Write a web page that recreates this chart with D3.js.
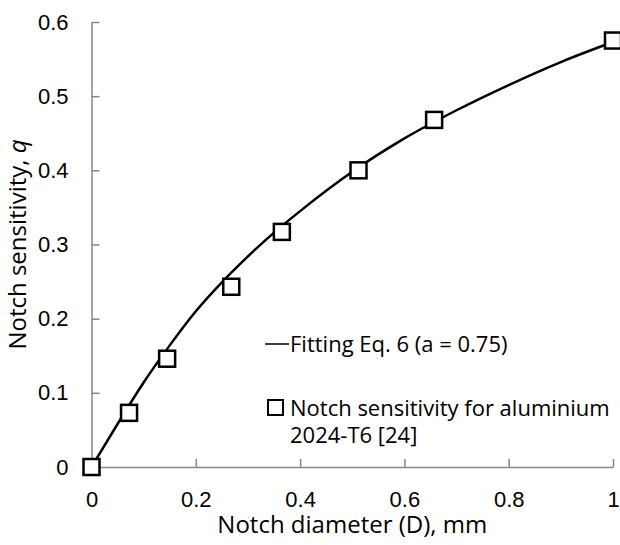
<!DOCTYPE html>
<meta charset="utf-8">
<style>
body { margin: 0; background: #fff; }
svg { font-family: 'Open Sans', sans-serif; }
.axis path, .axis line { stroke: #868686; stroke-width: 1.5; }
.axis text { font-size: 22px; fill: #000; }
.title { font-size: 24px; fill: #000; }
.legend text { font-size: 22px; fill: #000; }
</style>
<body>
<div id="chart"></div>
<script src="https://cdn.jsdelivr.net/npm/d3@7"></script>
<script>

// measured points (notch diameter D in mm, notch sensitivity q)
const pointD = [0, 0.072, 0.145, 0.268, 0.365, 0.512, 0.657, 1.0];
const pointQ = [0, 0.073, 0.146, 0.243, 0.317, 0.400, 0.468, 0.575];

// fitted curve
const fitD = [0, 0.05, 0.1, 0.15, 0.2, 0.25, 0.3, 0.35, 0.4, 0.5, 0.6, 0.7, 0.8, 0.9, 1.0];
const fitQ = [0, 0.058, 0.114, 0.164, 0.21, 0.249, 0.284, 0.316, 0.345, 0.398, 0.443, 0.481, 0.515, 0.546, 0.573];

const xTicks = [0, 0.2, 0.4, 0.6, 0.8, 1];
const yTicks = [0, 0.1, 0.2, 0.3, 0.4, 0.5, 0.6];

const legendLabels = ['Fitting Eq. 6 (a = 0.75)', 'Notch sensitivity for aluminium', '2024-T6 [24]'];

const W = 620, H = 545;
const margin = {top: 22, right: 7, bottom: 78, left: 91.5},
      width = W - margin.left - margin.right,
      height = H - margin.top - margin.bottom;

const svg = d3.select('#chart').append('svg')
    .attr('width', W)
    .attr('height', H);

const g = svg.append('g')
    .attr('transform', 'translate(' + margin.left + ',' + margin.top + ')');

const x = d3.scaleLinear().domain([0, 1]).range([0, width]);
const y = d3.scaleLinear().domain([0, 0.6]).range([height, 0]);

g.append('g')
    .attr('class', 'axis')
    .attr('transform', 'translate(0,' + height + ')')
    .call(d3.axisBottom(x).tickValues(xTicks).tickFormat(d3.format('~g'))
        .tickSizeInner(-8).tickSizeOuter(0).tickPadding(24));

g.append('g')
    .attr('class', 'axis')
    .call(d3.axisLeft(y).tickValues(yTicks).tickFormat(d3.format('~g'))
        .tickSizeInner(-8).tickSizeOuter(0).tickPadding(23));

// fitted line
const fit = fitD.map((d, i) => ({d: d, q: fitQ[i]}));
g.append('path')
    .datum(fit)
    .attr('fill', 'none')
    .attr('stroke', '#000')
    .attr('stroke-width', 2.5)
    .attr('d', d3.line().x(p => x(p.d)).y(p => y(p.q)).curve(d3.curveMonotoneX));

// measured points
const pts = pointD.map((d, i) => ({d: d, q: pointQ[i]}));
const sq = 16;
g.selectAll('rect.pt')
    .data(pts)
    .join('rect')
    .attr('class', 'pt')
    .attr('x', p => x(p.d) - sq / 2)
    .attr('y', p => y(p.q) - sq / 2)
    .attr('width', sq)
    .attr('height', sq)
    .attr('fill', '#fff')
    .attr('stroke', '#000')
    .attr('stroke-width', 2.5);

// axis titles
svg.append('text')
    .attr('class', 'title')
    .attr('text-anchor', 'middle')
    .attr('x', margin.left + width / 2)
    .attr('y', 533)
    .text('Notch diameter (D), mm');

const yt = svg.append('text')
    .attr('class', 'title')
    .attr('text-anchor', 'middle')
    .attr('transform', 'translate(26,' + (margin.top + height / 2) + ') rotate(-90)');
yt.append('tspan').text('Notch sensitivity, ');
yt.append('tspan').attr('font-style', 'italic').text('q');

// legend
const lg = svg.append('g').attr('class', 'legend');
lg.append('line')
    .attr('x1', 265).attr('x2', 289)
    .attr('y1', 344).attr('y2', 344)
    .attr('stroke', '#000').attr('stroke-width', 1.5);
lg.append('text').attr('x', 290).attr('y', 352).text(legendLabels[0]);
lg.append('rect')
    .attr('x', 268).attr('y', 400).attr('width', 15).attr('height', 15)
    .attr('fill', '#fff').attr('stroke', '#000').attr('stroke-width', 2);
lg.append('text').attr('x', 290).attr('y', 416).text(legendLabels[1]);
lg.append('text').attr('x', 290).attr('y', 443).text(legendLabels[2]);

</script>
</body>
